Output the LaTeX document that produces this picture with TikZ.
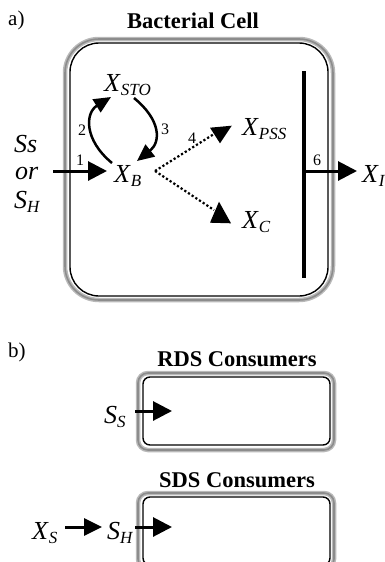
\documentclass[tikz,border=0pt]{standalone}
\usepackage{fontspec}
\setmainfont{Liberation Serif}
\usetikzlibrary{arrows.meta}
\newcommand{\xsub}[2]{\textit{#1}\raisebox{-4.5pt}{\fontsize{17}{19}\selectfont\textit{#2}}}
\tikzset{
  arr/.style={line width=3pt,-{Triangle[length=19pt,width=19pt]}},
  carr/.style={line width=2.5pt,-{Triangle[length=17pt,width=15pt]}},
  dotl/.style={line width=2.2pt,dash pattern=on 2.2pt off 2.2pt},
  lbl/.style={font=\fontsize{16}{18}\selectfont,inner sep=0pt},
  var/.style={inner sep=0pt,anchor=base west,font=\fontsize{26}{29}\selectfont},
  ttl/.style={inner sep=0pt,anchor=base,font=\bfseries\fontsize{22.5}{26}\selectfont},
  plab/.style={inner sep=0pt,anchor=base west,font=\fontsize{21}{24}\selectfont},
  outerw/.style={draw=gray!55,line width=4.5pt},
  outerc/.style={draw=gray!90,line width=1.6pt},
  innerb/.style={draw=black,line width=1.4pt},
}
\begin{document}
\begin{tikzpicture}[x=1pt,y=-1pt]
\clip (0,0) rectangle (385,562);
\fill[white] (0,0) rectangle (385,562);
% ---------- part a ----------
\node[plab] (pa) at (8,25) {a)};
\node[ttl] (t1) at (193,28) {Bacterial Cell};
\draw[outerw,rounded corners=34pt] (65,39) rectangle (333,300);
\draw[outerc,rounded corners=34pt] (65,39) rectangle (333,300);
\draw[innerb,rounded corners=29pt] (70,43) rectangle (328,296);
\coordinate (bt) at (304,71);
\coordinate (bb) at (304,278);
\draw[line width=4pt] (bt) -- (bb);

\node[var] (xsto) at (104,91) {\xsub{X}{STO}};
\node[var] (xb) at (114,182) {\xsub{X}{B}};
\node[var] (xpss) at (242,135) {\xsub{X}{PSS}};
\node[var] (xc) at (242,228) {\xsub{X}{C}};
\node[var] (xi) at (362,182) {\xsub{X}{I}};
\node[var] (ss) at (14,152) {\textit{Ss}};
\node[var] (orr) at (15,179) {\textit{or}};
\node[var] (sh) at (14,208) {\xsub{S}{H}};

\coordinate (a1s) at (53,171);
\coordinate (a1e) at (107,171);
\draw[arr] (a1s) -- (a1e);
\node[lbl] (l1) at (80,160) {1};

\coordinate (a2s) at (112,163);
\coordinate (a2e) at (111,97);
\draw[carr] (a2s) .. controls (84,140) and (85,113) .. (a2e);
\node[lbl] (l2) at (82,130) {2};

\coordinate (a3s) at (134,98);
\coordinate (a3e) at (137,161);
\draw[carr] (a3s) .. controls (161,120) and (161,142) .. (a3e);
\node[lbl] (l3) at (165,129) {3};

\coordinate (d0) at (155,171);
\coordinate (d4) at (214,134);
\coordinate (d5) at (214,210);
\draw[dotl] (d0) -- (d4);
\draw[dotl] (d0) -- (d5);
\fill (210,127.7) -- (231.7,125.7) -- (220,143.3) -- cycle;
\fill (210,222.7) -- (231,223.3) -- (219,201.7) -- cycle;
\node[lbl] (l4) at (192,138) {4};

\coordinate (a6s) at (304,171);
\coordinate (a6e) at (357,171);
\draw[arr] (a6s) -- (a6e);
\node[lbl] (l6) at (317,160) {6};

% ---------- part b ----------
\node[plab] (pb) at (8,357) {b)};
\node[ttl] (t2) at (237,366) {RDS Consumers};
\draw[outerw,rounded corners=10pt] (138,373) rectangle (334,450);
\draw[outerc,rounded corners=10pt] (138,373) rectangle (334,450);
\draw[innerb,rounded corners=7pt] (143,377) rectangle (330,445);
\node[var] (ssb) at (104,423) {\xsub{S}{S}};
\coordinate (r1s) at (135,411);
\coordinate (r1e) at (172,411);
\draw[arr] (r1s) -- (r1e);

\node[ttl] (t3) at (237,487) {SDS Consumers};
\draw[outerw,rounded corners=10pt] (138,493) rectangle (334,569);
\draw[outerc,rounded corners=10pt] (138,493) rectangle (334,569);
\draw[innerb,rounded corners=7pt] (143,497) rectangle (330,565);
\node[var] (xs) at (32,539) {\xsub{X}{S}};
\node[var] (shb) at (107,539) {\xsub{S}{H}};
\coordinate (s1s) at (65,527);
\coordinate (s1e) at (102,527);
\draw[line width=3pt,-{Triangle[length=18pt,width=17pt]}] (s1s) -- (s1e);
\coordinate (s2s) at (135,527);
\coordinate (s2e) at (172,527);
\draw[arr] (s2s) -- (s2e);
\end{tikzpicture}
\end{document}
